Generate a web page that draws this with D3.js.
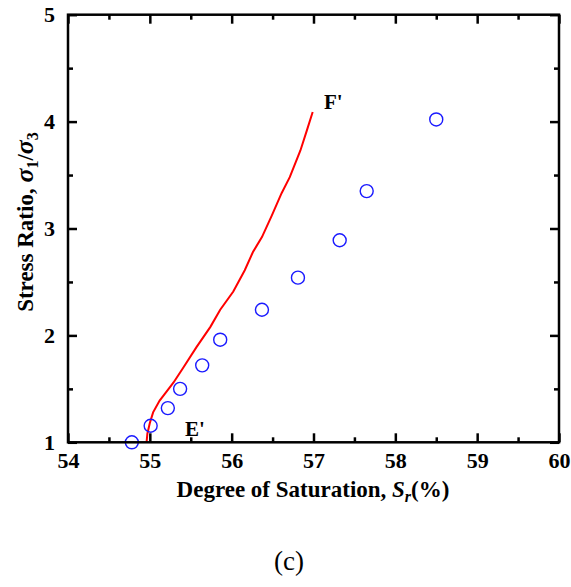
<!DOCTYPE html>
<html><head><meta charset="utf-8">
<script src="https://cdn.jsdelivr.net/npm/d3@7"></script>
<style>body{margin:0;background:#fff}svg{display:block}</style>
</head><body>
<svg id="chart" width="571" height="587"></svg>
<script>
const pointSr = [54.78, 55.01, 55.22, 55.37, 55.64, 55.86, 56.37, 56.81, 57.32, 57.65, 58.50];
const pointRatio = [1.00, 1.155, 1.32, 1.50, 1.72, 1.96, 2.24, 2.54, 2.89, 3.35, 4.02];
const curveSr = [54.96, 54.97, 55.00, 55.04, 55.12, 55.19, 55.29, 55.41, 55.57, 55.74, 55.86, 56.02, 56.16, 56.26, 56.37, 56.49, 56.61, 56.71, 56.84, 56.92, 56.99];
const curveRatio = [1.00, 1.08, 1.18, 1.28, 1.39, 1.46, 1.56, 1.70, 1.89, 2.08, 2.24, 2.41, 2.61, 2.78, 2.92, 3.12, 3.33, 3.48, 3.73, 3.92, 4.09];
const xTicks = [54, 55, 56, 57, 58, 59, 60];
const yTicks = [1, 2, 3, 4, 5];
const xMinor = [54.5, 55.5, 56.5, 57.5, 58.5, 59.5];
const yMinor = [1.5, 2.5, 3.5, 4.5];

const svg = d3.select("#chart");
const L = 68, R = 559, T = 14.7, B = 442.3;
const x = d3.scaleLinear().domain([54, 60]).range([L, R]);
const y = d3.scaleLinear().domain([1, 5]).range([B, T]);
const font = "'Liberation Serif', 'Times New Roman', serif";

// curve
const line = d3.line().x(d => x(d[0])).y(d => y(d[1])).curve(d3.curveLinear);
svg.append("path").datum(curveSr.map((v, i) => [v, curveRatio[i]]))
  .attr("d", line).attr("fill", "none").attr("stroke", "#ff0000").attr("stroke-width", 2);

// circles
svg.selectAll("circle.pt").data(pointSr.map((v, i) => [v, pointRatio[i]])).enter()
  .append("circle").attr("cx", d => x(d[0])).attr("cy", d => y(d[1])).attr("r", 6.5)
  .attr("fill", "none").attr("stroke", "#1a1aff").attr("stroke-width", 1.4);

// frame
svg.append("rect").attr("x", L).attr("y", T).attr("width", R - L).attr("height", B - T)
  .attr("fill", "none").attr("stroke", "#000").attr("stroke-width", 2.5);

// axes with inner ticks
const ax = (g, axis) => { g.call(axis); g.select(".domain").remove(); g.selectAll("line").attr("stroke", "#000").attr("stroke-width", 2.5); };
svg.append("g").attr("transform", `translate(0,${B})`)
  .call(g => ax(g, d3.axisBottom(x).tickValues(xTicks).tickSize(-9).tickPadding(10).tickFormat(d3.format("d"))));
svg.append("g").attr("transform", `translate(0,${B})`)
  .call(g => ax(g, d3.axisBottom(x).tickValues(xMinor).tickSize(-5).tickFormat("")));
svg.append("g").attr("transform", `translate(0,${T})`)
  .call(g => ax(g, d3.axisTop(x).tickValues(xTicks).tickSize(-9).tickFormat("")));
svg.append("g").attr("transform", `translate(0,${T})`)
  .call(g => ax(g, d3.axisTop(x).tickValues(xMinor).tickSize(-5).tickFormat("")));
svg.append("g").attr("transform", `translate(${L},0)`)
  .call(g => ax(g, d3.axisLeft(y).tickValues(yTicks).tickSize(-9).tickPadding(13).tickFormat(d3.format("d"))));
svg.append("g").attr("transform", `translate(${L},0)`)
  .call(g => ax(g, d3.axisLeft(y).tickValues(yMinor).tickSize(-5).tickFormat("")));
svg.append("g").attr("transform", `translate(${R},0)`)
  .call(g => ax(g, d3.axisRight(y).tickValues(yTicks).tickSize(-9).tickFormat("")));
svg.append("g").attr("transform", `translate(${R},0)`)
  .call(g => ax(g, d3.axisRight(y).tickValues(yMinor).tickSize(-5).tickFormat("")));
svg.selectAll(".tick text").attr("font-family", font).attr("font-size", 22).attr("font-weight", "bold").attr("fill", "#000");

// x title
const xt = svg.append("text").attr("x", 313).attr("y", 497).attr("text-anchor", "middle")
  .attr("font-family", font).attr("font-size", 23).attr("font-weight", "bold");
xt.append("tspan").text("Degree of Saturation, ");
xt.append("tspan").attr("font-style", "italic").text("S");
xt.append("tspan").attr("font-style", "italic").attr("font-size", 16).attr("dy", 5).text("r");
xt.append("tspan").attr("dy", -5).text("(%)");

// y title
const yt = svg.append("text").attr("transform", `translate(33,222) rotate(-90)`)
  .attr("text-anchor", "middle").attr("font-family", font).attr("font-size", 23).attr("font-weight", "bold");
yt.append("tspan").text("Stress Ratio, ");
yt.append("tspan").attr("font-style", "italic").attr("font-size", 26).text("σ");
yt.append("tspan").attr("font-size", 16).attr("dy", 5).text("1");
yt.append("tspan").attr("dy", -5).text("/");
yt.append("tspan").attr("font-style", "italic").attr("font-size", 26).text("σ");
yt.append("tspan").attr("font-size", 16).attr("dy", 5).text("3");

// annotations
svg.append("text").attr("x", 185).attr("y", 436).attr("font-family", font).attr("font-size", 21).attr("font-weight", "bold").text("E'");
svg.append("text").attr("x", 324).attr("y", 109).attr("font-family", font).attr("font-size", 21).attr("font-weight", "bold").text("F'");

// caption
svg.append("text").attr("x", 289).attr("y", 570).attr("text-anchor", "middle").attr("font-family", font).attr("font-size", 27).text("(c)");
</script>
</body></html>
